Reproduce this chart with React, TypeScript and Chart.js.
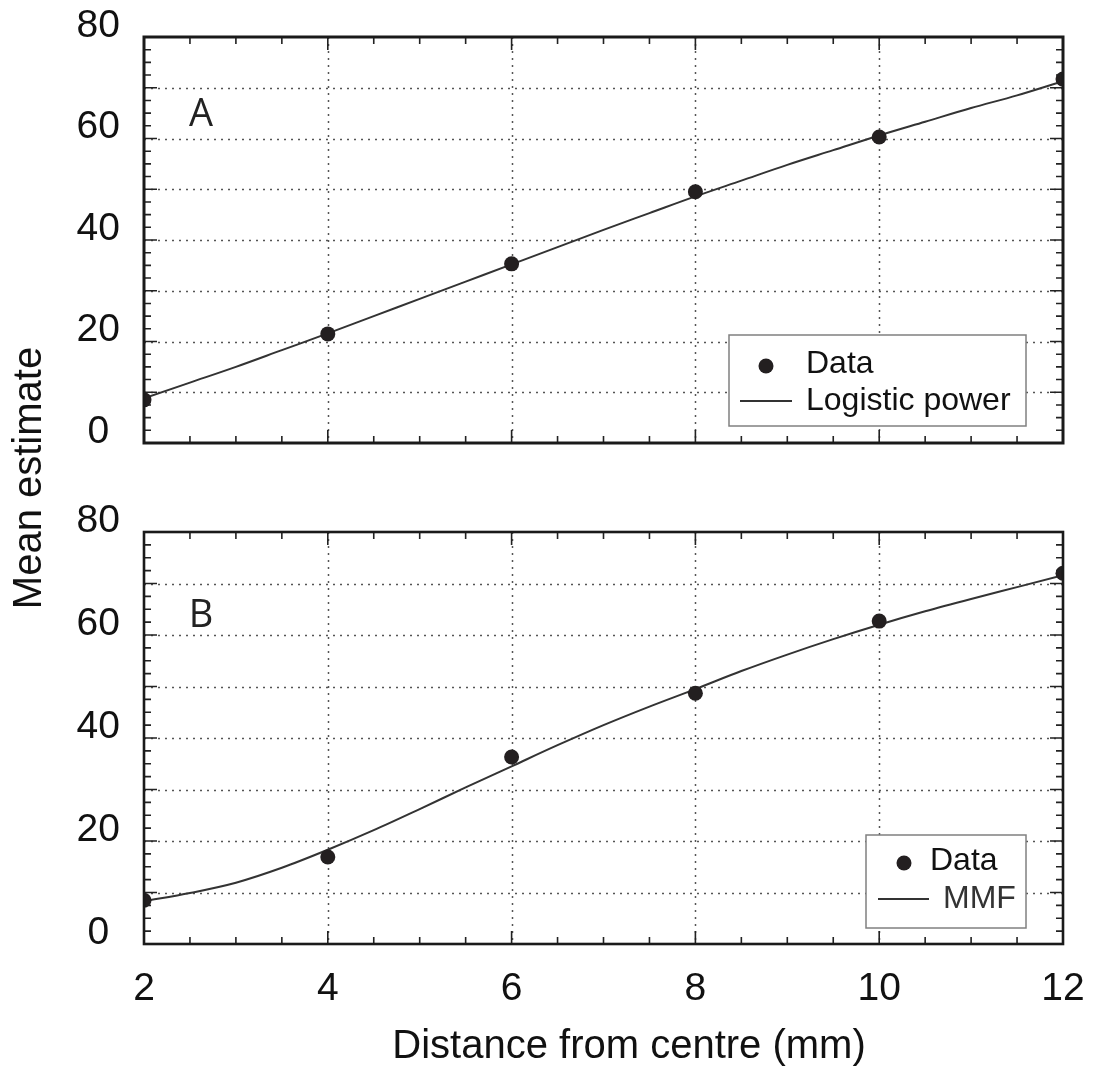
import React, { useEffect, useRef } from 'react';
import { Chart, registerables } from 'chart.js';

Chart.register(...registerables);

// ---- data ----
const pointX = [2, 4, 6, 8, 10, 12];
const dataA = [8.5, 21.5, 35.3, 49.5, 60.3, 71.7];
const dataB = [8.5, 16.9, 36.3, 48.7, 62.7, 72.0];

const curveX = [2, 2.5, 3, 3.5, 4, 4.5, 5, 5.5, 6, 6.5, 7, 7.5, 8, 8.5, 9, 9.5, 10, 10.5, 11, 11.5, 12];
const curveA = [8.8, 11.9, 15.0, 18.3, 21.6, 25.0, 28.4, 31.8, 35.2, 38.6, 42.0, 45.3, 48.6, 51.7, 54.8, 57.7, 60.6, 63.3, 66.0, 68.5, 71.3];
const curveB = [8.3, 9.9, 11.9, 14.8, 18.3, 22.1, 26.2, 30.4, 34.5, 38.6, 42.5, 46.1, 49.5, 53.0, 56.2, 59.2, 62.0, 64.6, 67.0, 69.3, 71.6];

const xMin = 2;
const xMax = 12;
const xStep = 2;
const yMin = 0;
const yMax = 80;
const yStep = 20;

const yTitle = 'Mean estimate';
const xTitle = 'Distance from centre (mm)';

const W = 1094;
const H = 1070;
const FONT = '"Liberation Sans", Arial, Helvetica, sans-serif';

const framePlugin = {
  id: 'frame',
  beforeDatasetsDraw(chart: any, _args: any, o: any) {
    const { ctx, chartArea: a, scales } = chart;
    const x = scales.x;
    const y = scales.y;
    ctx.save();
    ctx.strokeStyle = '#555';
    ctx.lineWidth = 1.5;
    ctx.setLineDash([2, 5]);
    for (let v = xMin + xStep; v < xMax; v += xStep) {
      const px = Math.round(x.getPixelForValue(v)) + 0.5;
      ctx.beginPath();
      ctx.moveTo(px, a.top);
      ctx.lineTo(px, a.bottom);
      ctx.stroke();
    }
    for (let v = yMin + 10; v < yMax; v += 10) {
      const py = Math.round(y.getPixelForValue(v)) + 0.5;
      ctx.beginPath();
      ctx.moveTo(a.left, py);
      ctx.lineTo(a.right, py);
      ctx.stroke();
    }
    ctx.restore();
  },
  afterDatasetsDraw(chart: any, _args: any, o: any) {
    const { ctx, chartArea: a, scales } = chart;
    const x = scales.x;
    const y = scales.y;
    ctx.save();
    ctx.setLineDash([]);
    ctx.strokeStyle = '#222';
    ctx.lineWidth = 1.6;
    for (let v = xMin; v <= xMax + 1e-9; v += 0.5) {
      const major = Math.abs(v % 2) < 1e-9;
      const len = major ? 13 : 7;
      const px = x.getPixelForValue(v);
      ctx.beginPath();
      ctx.moveTo(px, a.bottom);
      ctx.lineTo(px, a.bottom - len);
      ctx.moveTo(px, a.top);
      ctx.lineTo(px, a.top + len);
      ctx.stroke();
    }
    for (let v = yMin; v <= yMax + 1e-9; v += 2.5) {
      const major = Math.abs(v % 10) < 1e-9;
      const len = major ? 13 : 7;
      const py = y.getPixelForValue(v);
      ctx.beginPath();
      ctx.moveTo(a.left, py);
      ctx.lineTo(a.left + len, py);
      ctx.moveTo(a.right, py);
      ctx.lineTo(a.right - len, py);
      ctx.stroke();
    }
    ctx.strokeStyle = '#1a1a1a';
    ctx.lineWidth = o.frameWidth || 3;
    ctx.strokeRect(a.left, a.top, a.right - a.left, a.bottom - a.top);
    ctx.restore();
  },
  afterDraw(chart: any, _args: any, o: any) {
    const { ctx, chartArea: a, scales } = chart;
    const x = scales.x;
    const y = scales.y;
    ctx.save();
    // panel letter
    ctx.fillStyle = '#222';
    ctx.font = '38px "Open Sans", sans-serif';
    ctx.textAlign = 'center';
    ctx.textBaseline = 'middle';
    ctx.fillText(o.letter, x.getPixelForValue(o.letterX), y.getPixelForValue(o.letterY) + 3);

    // legend
    const L = o.legend;
    const bx = a.right - L.right - L.w;
    const by = a.bottom - L.bottom - L.h;
    ctx.fillStyle = '#fff';
    ctx.fillRect(bx, by, L.w, L.h);
    ctx.strokeStyle = '#808080';
    ctx.lineWidth = 1.5;
    ctx.strokeRect(bx, by, L.w, L.h);
    ctx.fillStyle = '#231f20';
    ctx.beginPath();
    ctx.arc(bx + L.dotX, by + L.dotY, 7.5, 0, Math.PI * 2);
    ctx.fill();
    ctx.strokeStyle = '#333';
    ctx.lineWidth = 2;
    ctx.beginPath();
    ctx.moveTo(bx + L.lineX1, by + L.lineY);
    ctx.lineTo(bx + L.lineX2, by + L.lineY);
    ctx.stroke();
    ctx.font = '32px ' + FONT;
    ctx.textAlign = 'left';
    ctx.textBaseline = 'middle';
    ctx.fillStyle = '#111';
    ctx.fillText('Data', bx + L.textX, by + L.dotY - 2);
    ctx.fillStyle = L.color2;
    ctx.fillText(L.label2, bx + L.textX2, by + L.lineY);

    // axis titles
    if (o.yTitle) {
      ctx.fillStyle = '#111';
      ctx.font = '40px ' + FONT;
      ctx.translate(o.yTitleX, o.yTitleY);
      ctx.rotate(-Math.PI / 2);
      ctx.textAlign = 'center';
      ctx.textBaseline = 'middle';
      ctx.fillText(o.yTitle, 0, 0);
      ctx.setTransform(1, 0, 0, 1, 0, 0);
    }
    if (o.xTitle) {
      ctx.fillStyle = '#111';
      ctx.font = '40px ' + FONT;
      ctx.textAlign = 'center';
      ctx.textBaseline = 'middle';
      ctx.fillText(o.xTitle, o.xTitleX, o.xTitleY);
    }
    ctx.restore();
  },
};

function zeroPadding(s: any) {
  s.paddingTop = 0;
  s.paddingBottom = 0;
  s.paddingLeft = 0;
  s.paddingRight = 0;
}

function makeConfig(p: any) {
  return {
    type: 'scatter',
    data: {
      datasets: [
        {
          label: p.curveLabel,
          data: curveX.map((xv, i) => ({ x: xv, y: p.curve[i] })),
          showLine: true,
          borderColor: '#333',
          borderWidth: 2,
          pointRadius: 0,
          cubicInterpolationMode: 'monotone',
          clip: 0,
          order: 2,
        },
        {
          label: 'Data',
          data: pointX.map((xv, i) => ({ x: xv, y: p.points[i] })),
          showLine: false,
          pointRadius: 7.5,
          pointBackgroundColor: '#231f20',
          pointBorderColor: '#231f20',
          pointBorderWidth: 0,
          clip: 0,
          order: 1,
        },
      ],
    },
    options: {
      animation: false,
      responsive: false,
      maintainAspectRatio: false,
      events: [],
      layout: { padding: p.padding },
      plugins: {
        legend: { display: false },
        tooltip: { enabled: false },
        frame: p.frame,
      },
      scales: {
        x: {
          type: 'linear',
          min: xMin,
          max: xMax,
          grid: { display: false, drawTicks: false },
          border: { display: false },
          ticks: {
            display: p.showX,
            stepSize: xStep,
            maxRotation: 0,
            padding: 22,
            color: '#111',
            font: { family: FONT, size: 39 },
          },
          afterFit: (s: any) => {
            s.height = p.xHeight;
            zeroPadding(s);
          },
        },
        y: {
          type: 'linear',
          min: yMin,
          max: yMax,
          grid: { display: false, drawTicks: false },
          border: { display: false },
          ticks: {
            stepSize: yStep,
            crossAlign: 'center',
            padding: 24,
            labelOffset: -11,
            color: '#111',
            font: { family: FONT, size: 39 },
          },
          afterFit: (s: any) => {
            s.width = 144;
            zeroPadding(s);
          },
        },
      },
    },
    plugins: [framePlugin],
  };
}

export default function App() {
  const refA = useRef<HTMLCanvasElement>(null);
  const refB = useRef<HTMLCanvasElement>(null);

  useEffect(() => {
    const chartA = new Chart(refA.current as any, makeConfig({
      points: dataA,
      curve: curveA,
      curveLabel: 'Logistic power',
      showX: false,
      xHeight: 0,
      padding: { left: 0, right: 31, top: 37, bottom: H - 443 },
      frame: {
        frameWidth: 3,
        letter: 'A',
        letterX: 2.62,
        letterY: 65.2,
        legend: { right: 37, bottom: 17, w: 297, h: 91, dotX: 37, dotY: 31, lineX1: 11, lineX2: 63, lineY: 66, textX: 77, textX2: 77, label2: 'Logistic power', color2: '#111' },
        yTitle,
        yTitleX: 30,
        yTitleY: 478,
      },
    }) as any);
    const chartB = new Chart(refB.current as any, makeConfig({
      points: dataB,
      curve: curveB,
      curveLabel: 'MMF',
      showX: true,
      xHeight: 126,
      padding: { left: 0, right: 31, top: 532, bottom: 0 },
      frame: {
        frameWidth: 2.6,
        letter: 'B',
        letterX: 2.62,
        letterY: 64.3,
        legend: { right: 37, bottom: 16, w: 160, h: 93, dotX: 38, dotY: 28, lineX1: 12, lineX2: 63, lineY: 64, textX: 64, textX2: 77, label2: 'MMF', color2: '#333' },
        xTitle,
        xTitleX: 629,
        xTitleY: 1047,
      },
    }) as any);
    return () => {
      chartA.destroy();
      chartB.destroy();
    };
  }, []);

  return (
    <div style={{ position: 'fixed', left: 0, top: 0, width: W, height: H, background: '#fff' }}>
      <canvas ref={refA} width={W} height={H} style={{ position: 'absolute', left: 0, top: 0 }} />
      <canvas ref={refB} width={W} height={H} style={{ position: 'absolute', left: 0, top: 0 }} />
    </div>
  );
}
